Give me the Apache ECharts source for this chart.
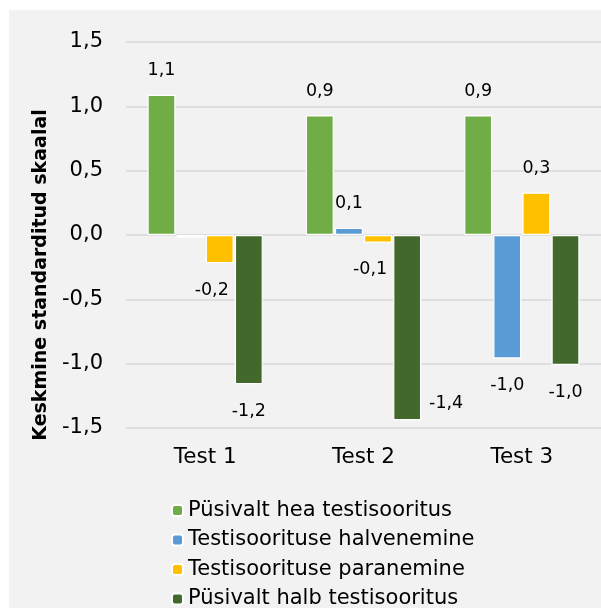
<!DOCTYPE html>
<html>
<head>
<meta charset="utf-8">
<script src="https://cdn.jsdelivr.net/npm/echarts@6/dist/echarts.min.js"></script>
<style>
  html, body { margin: 0; padding: 0; background: #fff; overflow: hidden; }
  #chart { position: absolute; left: 9px; top: 10px; width: 592px; height: 640px; }
</style>
</head>
<body>
<div id="chart"></div>
<script>
const categories = ['Test 1', 'Test 2', 'Test 3']
const seriesNames = [
  'Püsivalt hea testisooritus',
  'Testisoorituse halvenemine',
  'Testisoorituse paranemine',
  'Püsivalt halb testisooritus',
]
const goodStable = [1.09, 0.93, 0.93]
const worsening = [-0.02, 0.055, -0.96]
const improving = [-0.22, -0.06, 0.33]
const badStable = [-1.16, -1.44, -1.01]
const yTicks = { min: -1.5, max: 1.5, step: 0.5 }

const colors = ['#70ad47', '#5b9bd5', '#ffc000', '#43682b']
const FONT = 'DejaVu Sans'

const fmt = v => v.toFixed(1).replace('.', ',')

// label tweaks (series index - category index)
const labelTweaks = {
  '1-0': { show: false },
  '2-0': { offset: [-8, 0] },
  '2-1': { offset: [-8, 0] },
  '3-1': { offset: [39, -44] },
}

function barSeries(idx, values) {
  return {
    name: seriesNames[idx],
    type: 'bar',
    barWidth: 28,
    barGap: '4%',
    itemStyle: { color: colors[idx], borderColor: '#fff', borderWidth: 1.2 },
    data: values.map((v, i) => ({
      value: v,
      label: Object.assign({
        position: v >= 0 ? 'top' : 'bottom',
        distance: v >= 0 ? 15 : 18,
      }, labelTweaks[idx + '-' + i] || {}),
    })),
    label: {
      show: true,
      fontFamily: FONT,
      fontSize: 17.5,
      color: '#000',
      formatter: p => fmt(p.value),
    },
  }
}

const chart = echarts.init(document.getElementById('chart'))
chart.setOption({
  backgroundColor: '#f2f2f2',
  animation: false,
  grid: { left: 117, right: -12, top: 32, bottom: 222 },
  legend: {
    orient: 'vertical',
    left: 157,
    top: 485,
    itemWidth: 11,
    itemHeight: 11,
    itemGap: 8.5,
    textStyle: { fontFamily: FONT, fontSize: 21, color: '#000', lineHeight: 21 },
    data: seriesNames,
  },
  xAxis: {
    type: 'category',
    data: categories,
    axisLine: { show: false, onZero: false },
    axisTick: { show: false },
    axisLabel: { fontFamily: FONT, fontSize: 21.5, color: '#000', margin: 18 },
  },
  yAxis: {
    type: 'value',
    min: yTicks.min,
    max: yTicks.max,
    interval: yTicks.step,
    name: 'Keskmine standarditud skaalal',
    nameLocation: 'middle',
    nameRotate: 90,
    nameGap: 75,
    nameTextStyle: {
      fontFamily: FONT, fontSize: 19, fontWeight: 'bold', color: '#000',
      padding: [0, 80, 0, 0],
    },
    axisLabel: { fontFamily: FONT, fontSize: 21, color: '#000', margin: 23, formatter: fmt },
    splitLine: { lineStyle: { color: '#d9d9d9', width: 1.5 } },
  },
  series: [
    barSeries(0, goodStable),
    barSeries(1, worsening),
    barSeries(2, improving),
    barSeries(3, badStable),
  ],
})
</script>
</body>
</html>
